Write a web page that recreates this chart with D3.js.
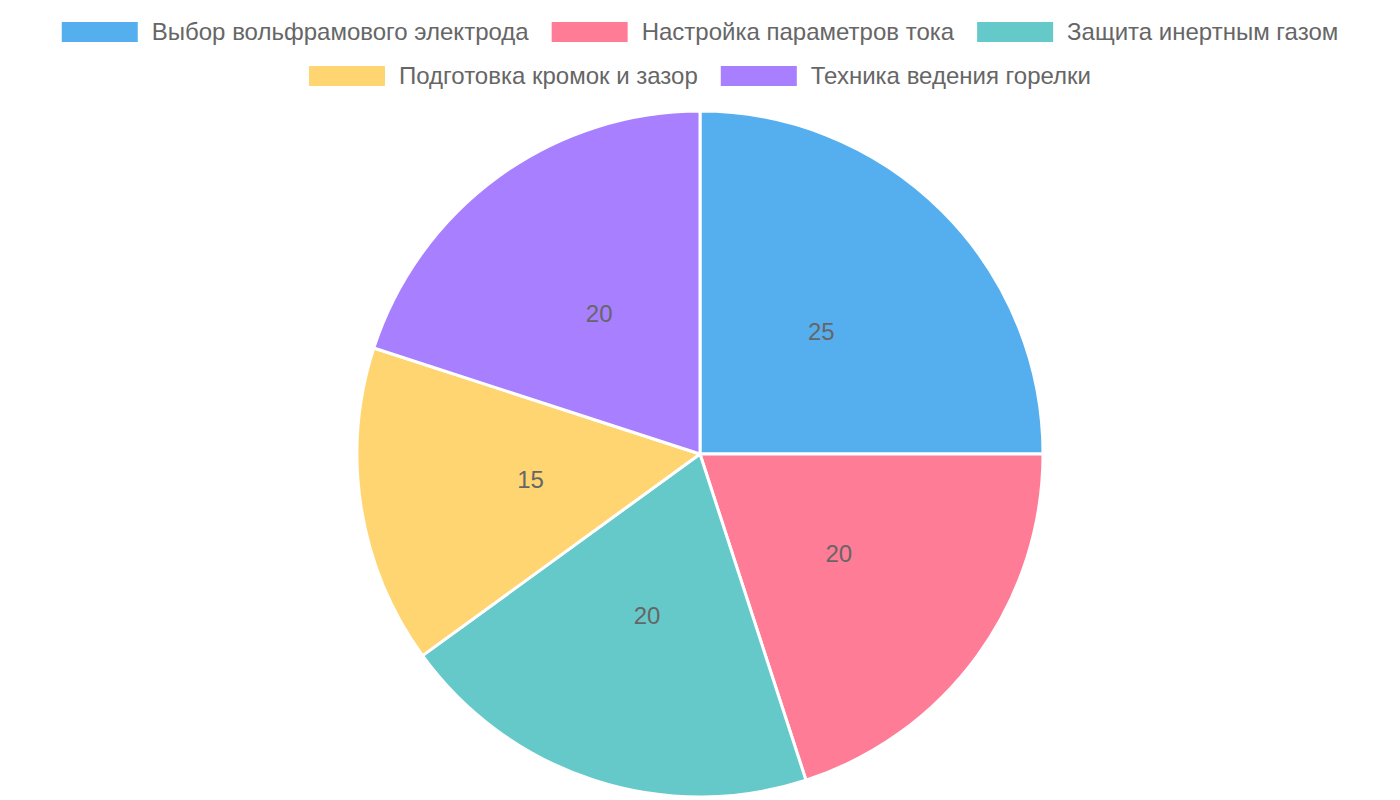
<!DOCTYPE html>
<html>
<head>
<meta charset="utf-8">
<script src="https://cdn.jsdelivr.net/npm/d3@7"></script>
<style>
  html, body { margin: 0; padding: 0; background: #fff; }
  svg { display: block; font-family: "Liberation Sans", Arial, sans-serif; }
</style>
</head>
<body>
<svg id="chart" width="1400" height="800"></svg>
<script>
// данные
var categories = ["Выбор вольфрамового электрода", "Настройка параметров тока", "Защита инертным газом", "Подготовка кромок и зазор", "Техника ведения горелки"];
var values = [25, 20, 20, 15, 20];
var colors = ["#55AFEF", "#FF7C97", "#66C9C9", "#FFD572", "#A77FFF"];
var legendRows = [[0, 1, 2], [3, 4]];

var W = 1400, H = 800;
var cx = 700, cy = 454, R = 343;
var svg = d3.select("#chart");

// легенда
var legend = svg.append("g").attr("class", "legend");
var boxW = 76, boxH = 20, boxGap = 14, itemGap = 23;
legendRows.forEach(function(row, ri){
	var y = 32 + ri*44;
	var g = legend.append("g");
	var x = 0;
	row.forEach(function(idx){
		g.append("rect")
			.attr("x", x).attr("y", y - boxH/2)
			.attr("width", boxW).attr("height", boxH)
			.attr("fill", colors[idx]);
		var t = g.append("text")
			.attr("x", x + boxW + boxGap).attr("y", y)
			.attr("dy", "0.35em")
			.attr("font-size", 24)
			.attr("fill", "#666")
			.text(categories[idx]);
		x += boxW + boxGap + t.node().getComputedTextLength() + itemGap;
	});
	var total = x - itemGap;
	g.attr("transform", "translate(" + (W/2 - total/2) + ",0)");
});

// круг
var pie = d3.pie().sort(null).value(function(d){ return d; });
var arc = d3.arc().innerRadius(0).outerRadius(R);
var labelArc = d3.arc().innerRadius(R/2).outerRadius(R/2);
var arcs = pie(values);

var pg = svg.append("g").attr("transform", "translate(" + cx + "," + cy + ")");
pg.selectAll("path")
	.data(arcs)
	.enter().append("path")
	.attr("d", arc)
	.attr("fill", function(d, i){ return colors[i]; })
	.attr("stroke", "#fff")
	.attr("stroke-width", 3)
	.attr("stroke-linejoin", "round");

pg.selectAll("text.val")
	.data(arcs)
	.enter().append("text")
	.attr("class", "val")
	.attr("transform", function(d){ return "translate(" + labelArc.centroid(d) + ")"; })
	.attr("text-anchor", "middle")
	.attr("dy", "0.3em")
	.attr("font-size", 24)
	.attr("fill", "#666")
	.text(function(d){ return d.data; });
</script>
</body>
</html>
